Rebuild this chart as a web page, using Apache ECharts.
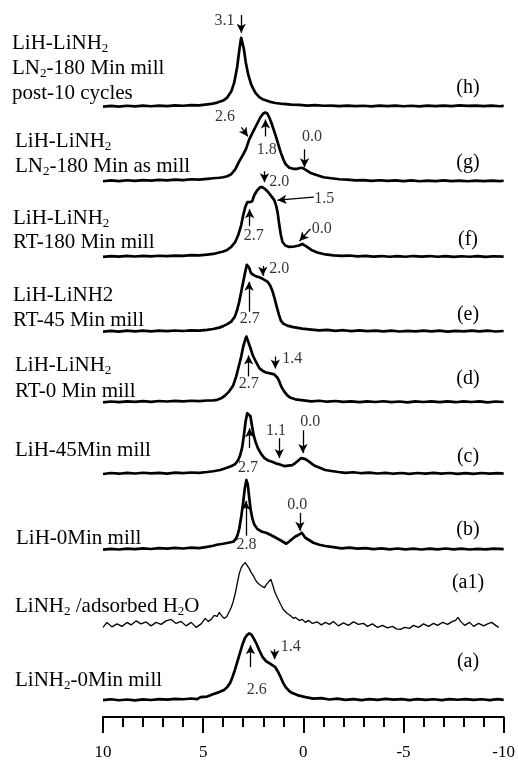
<!DOCTYPE html>
<html>
<head>
<meta charset="utf-8">
<script src="https://cdn.jsdelivr.net/npm/echarts@6/dist/echarts.min.js"></script>
<style>
  html, body { margin: 0; padding: 0; background: #fff; }
  #chart { width: 518px; height: 761px; }
</style>
</head>
<body>
<div id="chart"></div>
<script>
// chemical shift (ppm) / intensity pairs
const traceH = [[10,0],[9.6,0.6],[9.2,0],[8.8,0.8],[8.4,0.2],[8,0.9],[7.6,0.3],[7.2,1],[6.8,0.5],[6.4,1.2],[6,0.8],[5.6,1.4],[5.2,1.2],[4.9,2],[4.6,2.6],[4.3,4],[4,6],[3.8,9],[3.6,15],[3.45,24],[3.3,40],[3.2,56],[3.13,66],[3.1,69],[3.05,67],[2.97,58],[2.87,44],[2.75,32],[2.6,22],[2.4,14],[2.2,9.5],[2,7],[1.7,5],[1.4,3.6],[1,2.6],[0.6,2],[0.2,1.6],[-0.2,1],[-0.6,1.4],[-1,0.8],[-1.4,1],[-1.8,0.4],[-2.2,1],[-2.6,0.5],[-3,0.8],[-3.4,0.2],[-3.8,0.9],[-4.2,0.5],[-4.6,1],[-5,0.3],[-5.4,0.8],[-5.8,0.2],[-6.2,0.9],[-6.6,0.4],[-7,1],[-7.4,0.5],[-7.8,1.1],[-8.2,0.6],[-8.6,1],[-9,0.4],[-9.4,0.9],[-9.8,0.3],[-10,0.6]];
const traceG = [[10,0],[9.6,0.8],[9.2,0.2],[8.8,1],[8.4,0.4],[8,1.2],[7.6,0.6],[7.2,1.4],[6.8,0.8],[6.4,1.6],[6,1.2],[5.6,2],[5.2,1.6],[4.8,2.4],[4.5,3],[4.2,3.5],[4,4],[3.8,5],[3.6,7],[3.4,12],[3.2,20],[3,27],[2.85,33],[2.7,42],[2.6,46],[2.45,52],[2.3,58],[2.15,64],[2,68],[1.9,69],[1.8,68],[1.7,64],[1.6,59],[1.5,53],[1.37,45],[1.25,37],[1.13,29],[1,22],[0.88,17],[0.7,13.5],[0.5,12.5],[0.3,12.5],[0.1,13.5],[0,13],[-0.2,10.5],[-0.4,8],[-0.7,6],[-1,4],[-1.4,3],[-1.8,2],[-2.2,1.6],[-2.6,0.8],[-3,1.2],[-3.4,0.4],[-3.8,1],[-4.2,0.3],[-4.6,0.9],[-5,0.2],[-5.4,0.8],[-5.8,0],[-6.2,0.6],[-6.6,0.1],[-7,0.8],[-7.4,0.2],[-7.8,0.7],[-8.2,0],[-8.6,0.6],[-9,0.1],[-9.4,0.7],[-9.8,0.2],[-10,0.5]];
const traceF = [[10,0],[9.6,0.8],[9.2,0.3],[8.8,1],[8.4,0.4],[8,1.1],[7.6,0.6],[7.2,1.2],[6.8,0.8],[6.4,1.4],[6,1],[5.6,1.8],[5.2,1.5],[4.8,2.4],[4.5,3],[4.2,4.5],[4,5.5],[3.8,7],[3.6,10],[3.4,15],[3.25,22],[3.1,32],[3,42],[2.9,50],[2.8,55],[2.74,56.5],[2.68,55],[2.62,53],[2.55,56],[2.45,62],[2.3,67],[2.15,70],[2.05,70],[1.9,68],[1.75,65],[1.6,61],[1.45,57],[1.35,51],[1.28,44],[1.2,32],[1.12,22],[1.04,15],[0.9,11.5],[0.7,10],[0.45,10.5],[0.22,11.5],[0.05,13],[-0.15,10.5],[-0.4,7],[-0.7,4.5],[-1.1,2.5],[-1.5,1.6],[-1.9,1],[-2.3,1.4],[-2.7,0.6],[-3.1,1],[-3.5,0.3],[-3.9,0.9],[-4.3,0.2],[-4.7,0.8],[-5.1,0.2],[-5.5,0.9],[-5.9,0.3],[-6.3,0.9],[-6.7,0.2],[-7.1,0.8],[-7.5,0.1],[-7.9,0.7],[-8.3,0.2],[-8.7,0.8],[-9.1,0.1],[-9.5,0.7],[-10,0.3]];
const traceE = [[10,0],[9.6,0.7],[9.2,0],[8.8,0.9],[8.4,0.3],[8,1],[7.6,0.2],[7.2,1],[6.8,0.5],[6.4,1.1],[6,0.6],[5.6,1.3],[5.2,1],[4.8,1.8],[4.5,2.6],[4.2,4],[4,5.5],[3.8,7.5],[3.6,10],[3.42,15],[3.3,22],[3.2,30],[3.1,40],[3,50],[2.9,60],[2.82,67],[2.77,69],[2.7,64],[2.62,59],[2.5,57],[2.35,55.5],[2.2,54.5],[2.03,53],[1.9,51.5],[1.78,50],[1.65,46],[1.53,40],[1.43,33],[1.33,25],[1.22,17],[1.12,11],[1,8],[0.8,6],[0.5,4.5],[0.06,3],[-0.4,2],[-0.8,1.2],[-1.2,1.8],[-1.6,0.8],[-2,1.4],[-2.4,0.5],[-2.8,1.2],[-3.2,0.4],[-3.6,1],[-4,0.2],[-4.4,0.9],[-4.8,0.1],[-5.2,0.8],[-5.6,0.2],[-6,1],[-6.4,0.3],[-6.8,0.9],[-7.2,0],[-7.6,0.8],[-8,0.2],[-8.4,0.9],[-8.8,0.2],[-9.2,0.9],[-9.6,0.1],[-10,0.6]];
const traceD = [[10,0],[9.6,0.8],[9.2,0.2],[8.8,1],[8.4,0.4],[8,1.2],[7.6,0.5],[7.2,1.3],[6.8,0.8],[6.4,1.5],[6,1],[5.6,1.6],[5.2,1.2],[4.8,1.8],[4.5,2],[4.3,2.5],[4.1,4],[3.9,7],[3.7,11],[3.5,17],[3.35,26],[3.2,38],[3.1,46],[3,56],[2.9,63],[2.84,66],[2.78,64],[2.65,55],[2.52,47],[2.35,40],[2.19,34],[2.02,31.5],[1.86,30],[1.65,29],[1.45,28],[1.3,25],[1.2,21],[1.08,15],[0.96,11],[0.8,7],[0.63,4.5],[0.4,3],[0,2],[-0.4,1],[-0.8,1.6],[-1.2,0.6],[-1.6,1.3],[-2,0.4],[-2.4,1],[-2.8,0.2],[-3.2,0.9],[-3.6,0.3],[-4,1.1],[-4.4,0.2],[-4.8,0.8],[-5.2,0],[-5.6,0.9],[-6,0.3],[-6.4,1],[-6.8,0.2],[-7.2,0.9],[-7.6,0.1],[-8,1],[-8.4,0.3],[-8.8,0.9],[-9.2,0],[-9.6,0.8],[-10,0.3]];
const traceC = [[10,0],[9.6,1],[9.2,0.3],[8.8,1.2],[8.4,0.5],[8,1.3],[7.6,0.6],[7.2,1.2],[6.8,0.4],[6.4,1.4],[6,0.9],[5.6,1.5],[5.2,1.2],[4.8,2],[4.5,2.8],[4.15,4],[3.85,6],[3.58,8],[3.4,10],[3.25,14],[3.15,19],[3.05,27],[2.96,40],[2.88,53],[2.8,61],[2.72,63],[2.64,58],[2.56,48],[2.48,39],[2.38,32],[2.27,26],[2.1,20],[1.94,16],[1.75,13.5],[1.53,12],[1.35,10.5],[1.24,10],[1.1,9],[0.96,8],[0.75,8.5],[0.55,9],[0.4,11],[0.22,14],[0.1,16],[0.02,16.7],[-0.1,15],[-0.27,12.7],[-0.45,10],[-0.6,8],[-0.85,6],[-1.09,4],[-1.4,3],[-1.74,2],[-2.1,1.2],[-2.5,1.8],[-2.9,0.8],[-3.3,1.4],[-3.7,0.5],[-4.1,1.2],[-4.5,0.3],[-4.9,1],[-5.3,0.2],[-5.7,1],[-6.1,0.4],[-6.5,1.1],[-6.9,0.3],[-7.3,1],[-7.7,0.2],[-8.1,0.9],[-8.5,0.2],[-8.9,1],[-9.3,0.3],[-9.7,0.9],[-10,0.4]];
const traceB = [[10,0],[9.6,0.9],[9.2,0.2],[8.8,1.1],[8.4,0.5],[8,1.3],[7.6,0.7],[7.2,1.6],[6.8,1],[6.4,1.8],[6,1.2],[5.6,2],[5.2,1.6],[4.8,2.8],[4.5,4],[4.32,5],[4,6],[3.75,7],[3.5,8],[3.36,11],[3.28,15],[3.2,21],[3.1,33],[3,48],[2.92,62],[2.84,70],[2.77,65],[2.7,52],[2.62,39],[2.54,31],[2.44,25],[2.3,21],[2.06,18],[1.86,17],[1.6,14.5],[1.37,12],[1.1,9],[0.85,6],[0.72,8],[0.63,10],[0.42,13],[0.22,15],[0.08,17],[-0.1,12],[-0.3,9.5],[-0.5,7],[-0.8,5],[-1.09,3.7],[-1.5,2.5],[-1.9,1.4],[-2.3,2],[-2.7,1],[-3.1,1.6],[-3.5,0.6],[-3.9,1.3],[-4.3,0.4],[-4.7,1.2],[-5.1,0.3],[-5.5,1],[-5.9,0.2],[-6.3,1],[-6.7,0.4],[-7.1,1.2],[-7.5,0.3],[-7.9,1],[-8.3,0.2],[-8.7,0.9],[-9.1,0.3],[-9.5,1],[-10,0.5]];
const traceA1 = [[10,-2],[9.8,3],[9.55,-1.5],[9.3,1.5],[9.05,-1],[8.8,3],[8.6,0.5],[8.35,4.5],[8.1,1.5],[7.85,3.5],[7.6,-0.5],[7.35,3],[7.1,1],[6.85,4.5],[6.6,6],[6.35,2],[6.1,4],[5.85,-0.5],[5.6,3],[5.35,-2],[5.1,1.5],[4.9,7],[4.75,4],[4.6,6],[4.45,10],[4.3,9],[4.2,13],[4.05,9],[3.95,7],[3.82,9],[3.72,13],[3.6,18],[3.5,24],[3.4,32],[3.3,42],[3.2,52],[3.1,58],[3,61],[2.9,63],[2.82,62],[2.7,57],[2.6,53],[2.5,50],[2.4,46],[2.3,43],[2.19,41],[2.05,39],[1.94,38],[1.85,41],[1.72,44],[1.62,46],[1.52,40],[1.45,35],[1.35,30],[1.25,26],[1.13,21],[1,16],[0.9,14],[0.8,12],[0.65,10],[0.5,7],[0.39,8],[0.2,5],[0.05,6],[-0.1,3],[-0.27,5],[-0.45,2],[-0.7,3.5],[-0.9,0.5],[-1.1,3],[-1.3,1],[-1.5,4],[-1.75,-0.5],[-2,2.5],[-2.25,0],[-2.5,3.5],[-2.75,1],[-3,2],[-3.2,-1],[-3.45,1.5],[-3.7,-2],[-3.95,0],[-4.2,-2.5],[-4.45,-1],[-4.65,-3.5],[-4.85,-4],[-5.05,-2],[-5.3,-3],[-5.5,0],[-5.75,-2],[-6,1.5],[-6.25,-1],[-6.5,2],[-6.7,0],[-6.95,3],[-7.2,1],[-7.45,4],[-7.6,5],[-7.72,8],[-7.85,4],[-8.05,0],[-8.3,3],[-8.5,-1],[-8.75,2],[-9,-0.5],[-9.2,1.5],[-9.4,3],[-9.6,0],[-9.75,-2]];
const traceA = [[10,0],[9.6,0.8],[9.2,-0.2],[8.8,0.6],[8.4,-0.3],[8,0.7],[7.6,0.1],[7.2,1],[6.8,0.4],[6.4,1.2],[6,0.8],[5.6,1.6],[5.3,1],[5.13,3],[4.8,3.5],[4.48,6],[4.2,8],[3.96,10],[3.8,13],[3.66,17],[3.54,23],[3.42,30],[3.3,38],[3.17,47],[3.05,55],[2.92,62],[2.8,65.5],[2.7,67],[2.6,66],[2.48,62],[2.35,57],[2.2,50],[2.03,43],[1.86,39],[1.7,37],[1.55,35],[1.4,33],[1.28,29],[1.13,23],[1,17],[0.88,13],[0.7,9],[0.55,7],[0.3,5],[-0.1,3],[-0.5,1.5],[-0.9,2],[-1.3,0.6],[-1.7,1.4],[-2.1,0.2],[-2.5,1],[-2.9,0],[-3.3,0.9],[-3.7,0.2],[-4.1,1.2],[-4.5,0.4],[-4.9,1],[-5.3,0],[-5.7,0.9],[-6.1,0.2],[-6.5,0.8],[-6.9,0],[-7.3,1],[-7.7,0.3],[-8.1,1],[-8.5,0.2],[-8.9,0.8],[-9.3,0],[-9.7,0.9],[-10,0.2]];

const traces = [traceH, traceG, traceF, traceE, traceD, traceC, traceB, traceA1, traceA];
const letters = ["(h)", "(g)", "(f)", "(e)", "(d)", "(c)", "(b)", "(a1)", "(a)"];
const sampleNames = [
  ["LiH-LiNH{s|2}", "LN{s|2}-180 Min mill", "post-10 cycles"],
  ["LiH-LiNH{s|2}", "LN{s|2}-180 Min as mill"],
  ["LiH-LiNH{s|2}", "RT-180 Min mill"],
  ["LiH-LiNH2", "RT-45 Min mill"],
  ["LiH-LiNH{s|2}", "RT-0 Min mill"],
  ["LiH-45Min mill"],
  ["LiH-0Min mill"],
  ["LiNH{s|2} /adsorbed H{s|2}O"],
  ["LiNH{s|2}-0Min mill"]
];
// vertical stacking offset of each trace
const offsets = [613, 538, 462, 387, 316, 244, 168, 92, 17];
const thin = [false, false, false, false, false, false, false, true, false];

// peak annotations: [ppm, y] of the number, and arrow [x1, y1, x2, y2] (tip at the end)
const notes = [
  [3.94, 699, "3.1"],
  [3.91, 603, "2.6"], [1.83, 570, "1.8"], [-0.43, 583, "0.0"],
  [1.2, 537, "2.0"], [-1.04, 520, "1.5"], [2.48, 483, "2.7"], [-0.92, 490, "0.0"],
  [1.2, 450, "2.0"], [2.68, 400, "2.7"],
  [0.55, 360, "1.4"], [2.73, 335, "2.7"],
  [2.76, 250, "2.7"], [1.37, 287, "1.1"], [-0.35, 296, "0.0"],
  [2.84, 173, "2.8"], [0.3, 213, "0.0"],
  [2.32, 27, "2.6"], [0.63, 70, "1.4"]
];
const arrows = [
  [3.1, 705, 3.1, 687],
  [3.09, 592, 2.77, 583], [1.89, 583, 1.89, 600], [-0.06, 570, -0.06, 552],
  [1.94, 548, 1.94, 537], [-0.52, 522, 1.29, 519], [2.68, 493, 2.68, 510], [-0.35, 490, 0.19, 478],
  [2.02, 453, 2.02, 443], [2.71, 407, 2.71, 437],
  [1.4, 362, 1.4, 350], [2.73, 342, 2.73, 363],
  [2.68, 270, 2.68, 290], [1.2, 280, 1.2, 260], [0.02, 288, 0.02, 265],
  [2.87, 182, 2.87, 217], [0.17, 205, 0.17, 187],
  [2.64, 50, 2.64, 72], [1.43, 68, 1.43, 58]
];

// label layout (pixels)
const nameX = [12, 15, 13, 13, 15, 15, 16, 15, 15];
const nameBaselines = [[50, 75, 100], [148, 173], [225, 249], [302, 327], [372, 398], [457], [545], [613], [687]];
const letterY = [88, 163, 240, 315, 379, 457, 530, 583, 662];

const FONT = "'Liberation Serif', 'Times New Roman', serif";

const series = traces.map((t, i) => ({
  type: "line",
  data: t.map(([x, v]) => [x, v + offsets[i]]),
  showSymbol: false,
  symbol: "none",
  silent: true,
  lineStyle: { color: "#000", width: thin[i] ? 1.3 : 2.7, join: "round" },
  z: 2
}));

series.push({
  type: "scatter",
  data: notes,
  symbolSize: 1,
  itemStyle: { color: "rgba(0,0,0,0)" },
  silent: true,
  label: {
    show: true,
    position: "inside",
    formatter: (p) => p.value[2],
    fontFamily: FONT,
    fontSize: 16,
    color: "#000"
  },
  markLine: {
    silent: true,
    symbol: ["none", "arrow"],
    symbolSize: [7, 9],
    label: { show: false },
    lineStyle: { color: "#000", width: 1.3, type: "solid" },
    data: arrows.map(([x1, y1, x2, y2]) => [{ coord: [x1, y1] }, { coord: [x2, y2] }])
  }
});

const graphic = [];
sampleNames.forEach((lines, i) => {
  lines.forEach((txt, j) => {
    graphic.push({
      type: "text",
      x: nameX[i],
      y: nameBaselines[i][j] - 7,
      silent: true,
      style: {
        text: txt,
        fontFamily: FONT,
        fontSize: 21,
        lineHeight: 24,
        fill: "#000",
        verticalAlign: "middle",
        rich: {
          s: { fontFamily: FONT, fontSize: 13, lineHeight: 9, verticalAlign: "bottom", fill: "#000" }
        }
      }
    });
  });
  graphic.push({
    type: "text",
    x: 468,
    y: letterY[i],
    silent: true,
    style: {
      text: letters[i],
      fontFamily: FONT,
      fontSize: 20,
      fill: "#000",
      align: "center",
      verticalAlign: "middle"
    }
  });
});

const chart = echarts.init(document.getElementById("chart"));
chart.setOption({
  animation: false,
  backgroundColor: "#fff",
  grid: { left: 103, right: 10, top: 0, bottom: 41 },
  xAxis: {
    type: "value",
    min: -10,
    max: 10,
    interval: 5,
    inverse: true,
    axisLine: { show: true, onZero: false, lineStyle: { color: "#000", width: 2 } },
    axisTick: { show: true, length: 16, lineStyle: { color: "#000", width: 2 } },
    minorTick: { show: true, splitNumber: 5, length: 10, lineStyle: { color: "#000", width: 2 } },
    splitLine: { show: false },
    axisLabel: { color: "#000", fontFamily: FONT, fontSize: 17, margin: 27 }
  },
  yAxis: { type: "value", min: 0, max: 720, show: false },
  series,
  graphic
});
</script>
</body>
</html>
